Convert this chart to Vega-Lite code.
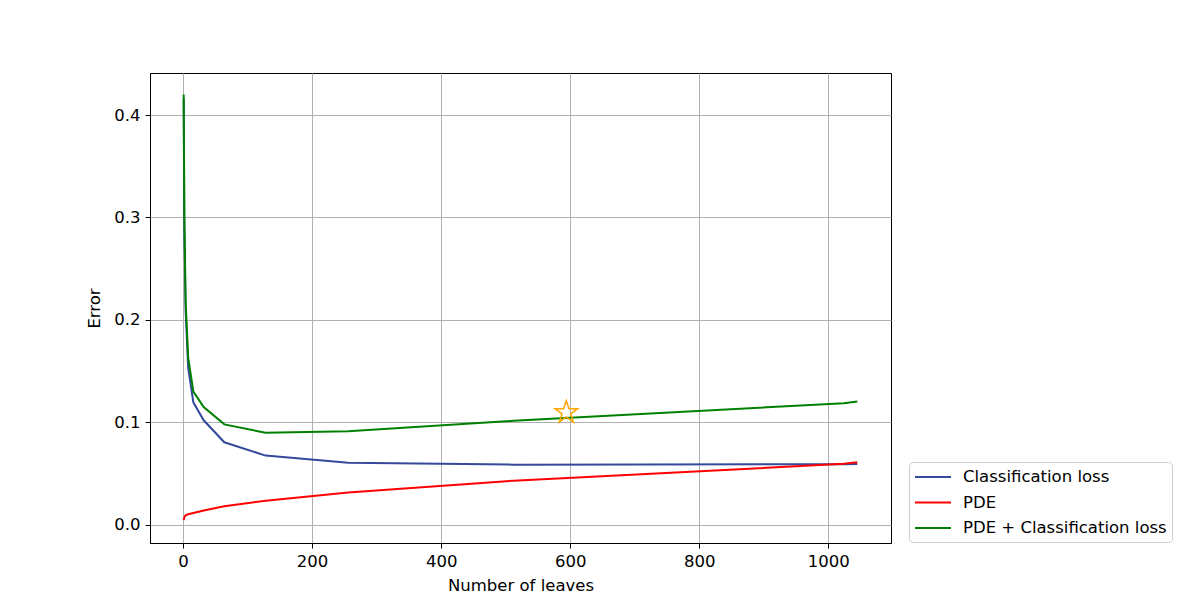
{
  "$schema": "https://vega.github.io/schema/vega-lite/v6.json",
  "width": 741,
  "height": 470,
  "autosize": {"type": "none"},
  "padding": {"left": 150, "top": 73, "right": 305, "bottom": 67},
  "background": "white",
  "config": {
    "font": "DejaVu Sans",
    "view": {"stroke": "black", "strokeWidth": 1},
    "axis": {
      "domainColor": "black",
      "gridColor": "#b0b0b0",
      "gridWidth": 1,
      "tickColor": "black",
      "tickSize": 5,
      "labelFont": "DejaVu Sans",
      "labelFontSize": 16.5,
      "labelColor": "black",
      "titleFont": "DejaVu Sans",
      "titleFontSize": 16.5,
      "titleFontWeight": "normal",
      "titleColor": "black",
      "labelPadding": 5
    },
    "legend": {
      "labelFont": "DejaVu Sans",
      "labelFontSize": 16.5,
      "labelColor": "black"
    }
  },
  "datasets": {
    "curves": [
      {"leaves": 1, "error": 0.4155, "series": "Classification loss"},
      {"leaves": 2, "error": 0.292, "series": "Classification loss"},
      {"leaves": 4, "error": 0.209, "series": "Classification loss"},
      {"leaves": 8, "error": 0.153, "series": "Classification loss"},
      {"leaves": 16, "error": 0.1195, "series": "Classification loss"},
      {"leaves": 32, "error": 0.102, "series": "Classification loss"},
      {"leaves": 64, "error": 0.0805, "series": "Classification loss"},
      {"leaves": 128, "error": 0.0675, "series": "Classification loss"},
      {"leaves": 256, "error": 0.0605, "series": "Classification loss"},
      {"leaves": 512, "error": 0.0587, "series": "Classification loss"},
      {"leaves": 1024, "error": 0.0591, "series": "Classification loss"},
      {"leaves": 1045, "error": 0.0592, "series": "Classification loss"},
      {"leaves": 1, "error": 0.0045, "series": "PDE"},
      {"leaves": 2, "error": 0.0075, "series": "PDE"},
      {"leaves": 4, "error": 0.0092, "series": "PDE"},
      {"leaves": 8, "error": 0.0103, "series": "PDE"},
      {"leaves": 16, "error": 0.0115, "series": "PDE"},
      {"leaves": 32, "error": 0.014, "series": "PDE"},
      {"leaves": 64, "error": 0.018, "series": "PDE"},
      {"leaves": 128, "error": 0.0235, "series": "PDE"},
      {"leaves": 256, "error": 0.0315, "series": "PDE"},
      {"leaves": 512, "error": 0.043, "series": "PDE"},
      {"leaves": 1024, "error": 0.0595, "series": "PDE"},
      {"leaves": 1045, "error": 0.061, "series": "PDE"},
      {"leaves": 1, "error": 0.42, "series": "PDE + Classification loss"},
      {"leaves": 2, "error": 0.30, "series": "PDE + Classification loss"},
      {"leaves": 4, "error": 0.218, "series": "PDE + Classification loss"},
      {"leaves": 8, "error": 0.163, "series": "PDE + Classification loss"},
      {"leaves": 16, "error": 0.13, "series": "PDE + Classification loss"},
      {"leaves": 32, "error": 0.115, "series": "PDE + Classification loss"},
      {"leaves": 64, "error": 0.098, "series": "PDE + Classification loss"},
      {"leaves": 128, "error": 0.0898, "series": "PDE + Classification loss"},
      {"leaves": 256, "error": 0.0913, "series": "PDE + Classification loss"},
      {"leaves": 512, "error": 0.1015, "series": "PDE + Classification loss"},
      {"leaves": 1024, "error": 0.1186, "series": "PDE + Classification loss"},
      {"leaves": 1045, "error": 0.1204, "series": "PDE + Classification loss"}
    ],
    "best": [
      {"leaves": 594, "error": 0.1097}
    ]
  },
  "layer": [
    {
      "data": {"name": "curves"},
      "mark": {"type": "line", "strokeWidth": 2, "clip": true},
      "encoding": {
        "x": {
          "field": "leaves",
          "type": "quantitative",
          "scale": {"domain": [-51.2, 1097.2], "nice": false, "zero": false},
          "axis": {"title": "Number of leaves", "values": [0, 200, 400, 600, 800, 1000], "format": "d", "titlePadding": 8}
        },
        "y": {
          "field": "error",
          "type": "quantitative",
          "scale": {"domain": [-0.0178, 0.441], "nice": false, "zero": false},
          "axis": {"title": "Error", "values": [0, 0.1, 0.2, 0.3, 0.4], "format": ".1f", "titlePadding": 11}
        },
        "color": {
          "field": "series",
          "type": "nominal",
          "scale": {
            "domain": ["Classification loss", "PDE", "PDE + Classification loss"],
            "range": ["#34499b", "#ff0000", "#008000"]
          },
          "legend": {
            "title": null,
            "orient": "none",
            "legendX": 759,
            "legendY": 389,
            "symbolType": "M-2,0H2",
            "symbolSize": 324,
            "symbolOffset": 9,
            "symbolStrokeWidth": 2,
            "symbolFillColor": "transparent",
            "labelOffset": 20,
            "labelLimit": 0,
            "padding": 5,
            "rowPadding": 6.5,
            "strokeColor": "#cccccc",
            "cornerRadius": 4,
            "fillColor": "white"
          }
        }
      }
    },
    {
      "data": {"name": "best"},
      "mark": {
        "type": "point",
        "shape": "M0,-1L0.2245,-0.309L0.951,-0.309L0.363,0.118L0.588,0.809L0,0.382L-0.588,0.809L-0.363,0.118L-0.951,-0.309L-0.2245,-0.309Z",
        "size": 560,
        "filled": false,
        "stroke": "#ffa500",
        "strokeWidth": 1.5,
        "opacity": 1
      },
      "encoding": {
        "x": {"field": "leaves", "type": "quantitative"},
        "y": {"field": "error", "type": "quantitative"}
      }
    }
  ]
}
